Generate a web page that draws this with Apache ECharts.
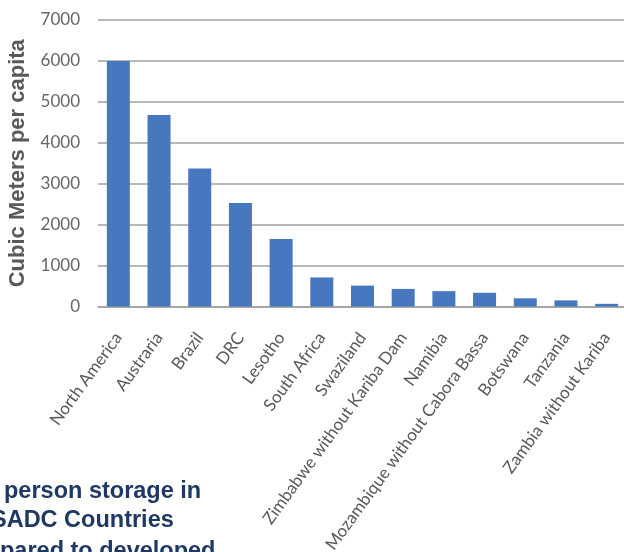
<!DOCTYPE html>
<html>
<head>
<meta charset="utf-8">
<script src="https://cdn.jsdelivr.net/npm/echarts@6/dist/echarts.min.js"></script>
<style>
html,body{margin:0;padding:0;background:#fff;}
#chart{width:624px;height:552px;}
</style>
</head>
<body>
<div id="chart"></div>
<script>
var categories = ['North America','Austraria','Brazil','DRC','Lesotho','South Africa','Swaziland','Zimbabwe without Kariba Dam','Namibia','Mozambique without Cabora Bassa','Botswana','Tanzania','Zambia without Kariba'];
var storagePerCapita = [6000, 4680, 3370, 2530, 1650, 710, 510, 430, 375, 335, 200, 150, 65];
var yTicks = [0, 1000, 2000, 3000, 4000, 5000, 6000, 7000];
var yAxisTitle = 'Cubic Meters per capita';
var captionLines = ['person storage in', 'SADC Countries', 'pared to developed'];

var chart = echarts.init(document.getElementById('chart'), null, {renderer: 'canvas'});
var labelColor = '#595959';
var captionFont = 'bold 23.5px "Liberation Sans", Arial, sans-serif';
chart.setOption({
  backgroundColor: '#ffffff',
  animation: false,
  grid: {left: 98, right: -3, top: 20, bottom: 245.5, containLabel: false, outerBoundsMode: 'none'},
  xAxis: {
    type: 'category',
    data: categories,
    axisTick: {show: false},
    axisLine: {show: true, lineStyle: {color: '#a0a0a0', width: 1.5}},
    axisLabel: {
      interval: 0,
      rotate: 54,
      margin: 28,
      color: labelColor,
      fontSize: 17,
      fontFamily: 'Lato, sans-serif'
    }
  },
  yAxis: {
    type: 'value',
    min: yTicks[0],
    max: yTicks[yTicks.length - 1],
    interval: yTicks[1] - yTicks[0],
    name: yAxisTitle,
    nameLocation: 'middle',
    nameRotate: 90,
    nameGap: 69,
    nameTextStyle: {color: labelColor, fontSize: 22, fontWeight: 'bold', fontFamily: '"Liberation Sans", Arial, sans-serif'},
    axisLine: {show: false},
    axisTick: {show: false},
    axisLabel: {margin: 18, color: '#666666', fontSize: 17, fontFamily: 'Lato, sans-serif', formatter: function (v) { return String(v); }},
    splitLine: {lineStyle: {color: '#a0a0a0', width: 1.5}}
  },
  series: [{
    type: 'bar',
    data: storagePerCapita,
    barWidth: 23,
    itemStyle: {color: '#4677BF'}
  }],
  graphic: [
    {type: 'text', left: 4, top: 480, style: {text: captionLines[0], font: captionFont, fill: '#1F3864'}},
    {type: 'text', left: -9, top: 509, style: {text: captionLines[1], font: captionFont, fill: '#1F3864'}},
    {type: 'text', left: 0, top: 540, style: {text: captionLines[2], font: captionFont, fill: '#1F3864'}}
  ]
});
</script>
</body>
</html>
